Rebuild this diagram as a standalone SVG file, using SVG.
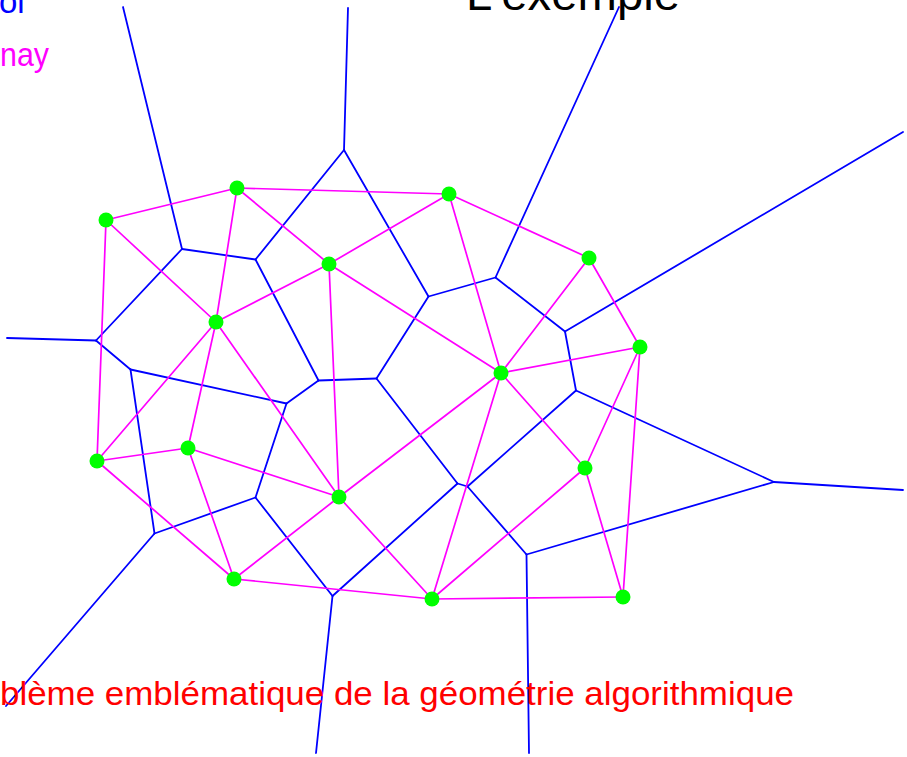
<svg xmlns="http://www.w3.org/2000/svg" width="907" height="757" viewBox="0 0 907 757">
<style>
.v{stroke:#0000ff;stroke-width:1.8;fill:none;stroke-linecap:round}
.d{stroke:#ff00ff;stroke-width:1.7;fill:none;stroke-linecap:round}
.p{fill:#00ff00}
.t{font-family:"Liberation Sans","DejaVu Sans",sans-serif}
</style>
<rect width="907" height="757" fill="#ffffff"/>
<g id="voronoi" class="v">
<line x1="182" y1="249" x2="123" y2="7"/>
<line x1="182" y1="249" x2="255.5" y2="259.5"/>
<line x1="182" y1="249" x2="96" y2="340.5"/>
<line x1="255.5" y1="259.5" x2="344" y2="150"/>
<line x1="255.5" y1="259.5" x2="318.5" y2="380.5"/>
<line x1="344" y1="150" x2="348" y2="8"/>
<line x1="344" y1="150" x2="428.5" y2="296.5"/>
<line x1="96" y1="340.5" x2="7" y2="338"/>
<line x1="96" y1="340.5" x2="130.5" y2="369.5"/>
<line x1="130.5" y1="369.5" x2="286.5" y2="403.5"/>
<line x1="130.5" y1="369.5" x2="154.5" y2="533.5"/>
<line x1="286.5" y1="403.5" x2="318.5" y2="380.5"/>
<line x1="286.5" y1="403.5" x2="255.5" y2="497.5"/>
<line x1="318.5" y1="380.5" x2="376.5" y2="378.5"/>
<line x1="376.5" y1="378.5" x2="428.5" y2="296.5"/>
<line x1="376.5" y1="378.5" x2="457.5" y2="483.5"/>
<line x1="457.5" y1="483.5" x2="467.5" y2="486.5"/>
<line x1="457.5" y1="483.5" x2="332.5" y2="596"/>
<line x1="467.5" y1="486.5" x2="576" y2="390.5"/>
<line x1="467.5" y1="486.5" x2="526.5" y2="554.5"/>
<line x1="576" y1="390.5" x2="565" y2="331.5"/>
<line x1="576" y1="390.5" x2="774" y2="482"/>
<line x1="565" y1="331.5" x2="495.5" y2="277.5"/>
<line x1="565" y1="331.5" x2="903" y2="132"/>
<line x1="495.5" y1="277.5" x2="428.5" y2="296.5"/>
<line x1="495.5" y1="277.5" x2="619" y2="7"/>
<line x1="526.5" y1="554.5" x2="774" y2="482"/>
<line x1="526.5" y1="554.5" x2="529" y2="753"/>
<line x1="774" y1="482" x2="903" y2="490"/>
<line x1="255.5" y1="497.5" x2="154.5" y2="533.5"/>
<line x1="255.5" y1="497.5" x2="332.5" y2="596"/>
<line x1="154.5" y1="533.5" x2="6" y2="706"/>
<line x1="332.5" y1="596" x2="316" y2="753"/>
</g>
<g id="delaunay" class="d">
<line x1="106" y1="220" x2="237" y2="188"/>
<line x1="106" y1="220" x2="97" y2="461"/>
<line x1="106" y1="220" x2="216" y2="322"/>
<line x1="237" y1="188" x2="449" y2="194"/>
<line x1="237" y1="188" x2="329" y2="264"/>
<line x1="237" y1="188" x2="216" y2="322"/>
<line x1="449" y1="194" x2="329" y2="264"/>
<line x1="449" y1="194" x2="589" y2="258"/>
<line x1="449" y1="194" x2="501" y2="373"/>
<line x1="329" y1="264" x2="216" y2="322"/>
<line x1="329" y1="264" x2="339" y2="497"/>
<line x1="329" y1="264" x2="501" y2="373"/>
<line x1="216" y1="322" x2="97" y2="461"/>
<line x1="216" y1="322" x2="188" y2="448"/>
<line x1="216" y1="322" x2="339" y2="497"/>
<line x1="589" y1="258" x2="501" y2="373"/>
<line x1="589" y1="258" x2="640" y2="347"/>
<line x1="640" y1="347" x2="501" y2="373"/>
<line x1="640" y1="347" x2="585" y2="468"/>
<line x1="640" y1="347" x2="623" y2="597"/>
<line x1="501" y1="373" x2="339" y2="497"/>
<line x1="501" y1="373" x2="432" y2="599"/>
<line x1="501" y1="373" x2="585" y2="468"/>
<line x1="97" y1="461" x2="188" y2="448"/>
<line x1="97" y1="461" x2="234" y2="579"/>
<line x1="188" y1="448" x2="339" y2="497"/>
<line x1="188" y1="448" x2="234" y2="579"/>
<line x1="339" y1="497" x2="234" y2="579"/>
<line x1="339" y1="497" x2="432" y2="599"/>
<line x1="234" y1="579" x2="432" y2="599"/>
<line x1="585" y1="468" x2="432" y2="599"/>
<line x1="585" y1="468" x2="623" y2="597"/>
<line x1="432" y1="599" x2="623" y2="597"/>
</g>
<g id="p1"><circle class="p" cx="106" cy="220" r="7.5"/></g>
<g id="p2"><circle class="p" cx="237" cy="188" r="7.5"/></g>
<g id="p3"><circle class="p" cx="449" cy="194" r="7.5"/></g>
<g id="p4"><circle class="p" cx="329" cy="264" r="7.5"/></g>
<g id="p5"><circle class="p" cx="216" cy="322" r="7.5"/></g>
<g id="p6"><circle class="p" cx="589" cy="258" r="7.5"/></g>
<g id="p7"><circle class="p" cx="640" cy="347" r="7.5"/></g>
<g id="p8"><circle class="p" cx="501" cy="373" r="7.5"/></g>
<g id="p9"><circle class="p" cx="97" cy="461" r="7.5"/></g>
<g id="p10"><circle class="p" cx="188" cy="448" r="7.5"/></g>
<g id="p11"><circle class="p" cx="339" cy="497" r="7.5"/></g>
<g id="p12"><circle class="p" cx="234" cy="579" r="7.5"/></g>
<g id="p13"><circle class="p" cx="585" cy="468" r="7.5"/></g>
<g id="p14"><circle class="p" cx="432" cy="599" r="7.5"/></g>
<g id="p15"><circle class="p" cx="623" cy="597" r="7.5"/></g>
<text class="t" x="-1" y="12.5" font-size="33" fill="#0000ff">oi</text>
<text class="t" x="0" y="66" font-size="33" fill="#ff00ff" textLength="49" lengthAdjust="spacingAndGlyphs">nay</text>
<text class="t" x="466" y="9.5" font-size="47" fill="#000000" textLength="214" lengthAdjust="spacingAndGlyphs">L'exemple</text>
<text class="t" x="0" y="705" font-size="33" fill="#ff0000" textLength="794" lengthAdjust="spacingAndGlyphs">blème emblématique de la géométrie algorithmique</text>
</svg>
